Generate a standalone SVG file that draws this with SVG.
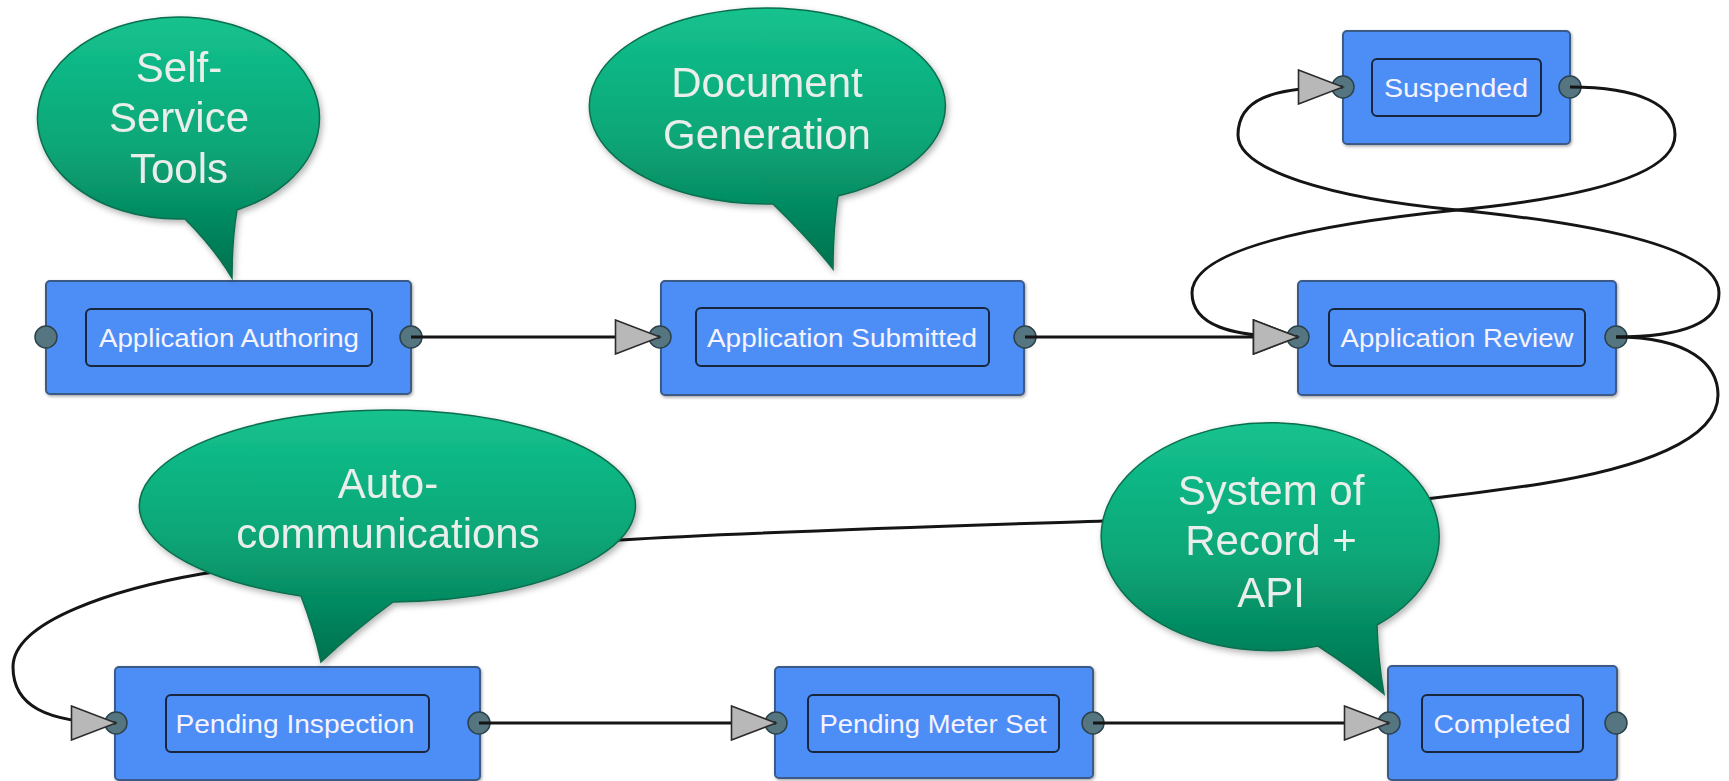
<svg xmlns="http://www.w3.org/2000/svg" width="1729" height="781" viewBox="0 0 1729 781">
  <style>
    .box { fill: #4d8ef6; stroke: #3a5a86; stroke-width: 2; }
    .inner { fill: #4d8ef6; stroke: #18263d; stroke-width: 2; }
    .port { fill: #557680; stroke: #2c424c; stroke-width: 1.5; }
    .label { font-family: "Liberation Sans", Arial, sans-serif; font-size: 26px; fill: #f6f3ff; text-anchor: middle; }
    .wire { fill: none; stroke: #151515; stroke-width: 3; }
    .bubble { fill: url(#bubbleFill); stroke: #0a6e4d; stroke-width: 1.5; }
    .bubbleText { font-family: "Liberation Sans", Arial, sans-serif; font-size: 42px; fill: #e9eeea; text-anchor: middle; }
  </style>
  <defs>
    <linearGradient id="bubbleFill" x1="0" y1="0" x2="0" y2="1">
      <stop offset="0" stop-color="#15c28e"/>
      <stop offset="0.5" stop-color="#08a677"/>
      <stop offset="1" stop-color="#04714e"/>
    </linearGradient>
    <filter id="boxShadow" x="-10%" y="-10%" width="120%" height="130%">
      <feDropShadow dx="1" dy="1.5" stdDeviation="1.5" flood-color="#000" flood-opacity="0.35"/>
    </filter>
    <filter id="bubbleShadow" x="-10%" y="-10%" width="120%" height="130%">
      <feDropShadow dx="2" dy="3" stdDeviation="3" flood-color="#000" flood-opacity="0.3"/>
    </filter>
    <marker id="arrow" viewBox="0 0 48 36" refX="46" refY="18" markerWidth="48" markerHeight="36" markerUnits="userSpaceOnUse" orient="auto">
      <path d="M1.5,1 L46,18 L1.5,35 Z" fill="#b8b8b8" stroke="#2b2b2b" stroke-width="1.6"/>
    </marker>
  </defs>

  <rect width="1729" height="781" fill="#ffffff"/>

  <!-- state nodes -->
  <g id="nodes">
    <g id="application-authoring">
      <rect class="box" x="46" y="281" width="365" height="113" rx="4" filter="url(#boxShadow)"/>
      <rect class="inner" x="86" y="309" width="286" height="57" rx="5"/>
      <text class="label" x="229" y="347" textLength="260" lengthAdjust="spacingAndGlyphs">Application Authoring</text>
      <circle class="port" cx="46" cy="337" r="11"/>
      <circle class="port" cx="411" cy="337" r="11"/>
    </g>
    <g id="application-submitted">
      <rect class="box" x="661" y="281" width="363" height="114" rx="4" filter="url(#boxShadow)"/>
      <rect class="inner" x="696" y="308" width="293" height="58" rx="5"/>
      <text class="label" x="842" y="347" textLength="270" lengthAdjust="spacingAndGlyphs">Application Submitted</text>
      <circle class="port" cx="660" cy="337" r="11"/>
      <circle class="port" cx="1025" cy="337" r="11"/>
    </g>
    <g id="application-review">
      <rect class="box" x="1298" y="281" width="318" height="114" rx="4" filter="url(#boxShadow)"/>
      <rect class="inner" x="1329" y="309" width="256" height="57" rx="5"/>
      <text class="label" x="1457" y="347" textLength="233" lengthAdjust="spacingAndGlyphs">Application Review</text>
      <circle class="port" cx="1298" cy="337" r="11"/>
      <circle class="port" cx="1616" cy="337" r="11"/>
    </g>
    <g id="suspended">
      <rect class="box" x="1343" y="31" width="227" height="113" rx="4" filter="url(#boxShadow)"/>
      <rect class="inner" x="1372" y="59" width="169" height="57" rx="5"/>
      <text class="label" x="1456" y="97" textLength="144" lengthAdjust="spacingAndGlyphs">Suspended</text>
      <circle class="port" cx="1343" cy="87" r="11"/>
      <circle class="port" cx="1570" cy="87" r="11"/>
    </g>
    <g id="pending-inspection">
      <rect class="box" x="115" y="667" width="365" height="113" rx="4" filter="url(#boxShadow)"/>
      <rect class="inner" x="166" y="695" width="263" height="57" rx="5"/>
      <text class="label" x="295" y="733" textLength="239" lengthAdjust="spacingAndGlyphs">Pending Inspection</text>
      <circle class="port" cx="116" cy="723" r="11"/>
      <circle class="port" cx="479" cy="723" r="11"/>
    </g>
    <g id="pending-meter-set">
      <rect class="box" x="775" y="667" width="318" height="111" rx="4" filter="url(#boxShadow)"/>
      <rect class="inner" x="808" y="695" width="251" height="57" rx="5"/>
      <text class="label" x="933" y="733" textLength="227" lengthAdjust="spacingAndGlyphs">Pending Meter Set</text>
      <circle class="port" cx="776" cy="723" r="11"/>
      <circle class="port" cx="1093" cy="723" r="11"/>
    </g>
    <g id="completed">
      <rect class="box" x="1388" y="666" width="229" height="114" rx="4" filter="url(#boxShadow)"/>
      <rect class="inner" x="1422" y="695" width="161" height="57" rx="5"/>
      <text class="label" x="1502" y="733" textLength="137" lengthAdjust="spacingAndGlyphs">Completed</text>
      <circle class="port" cx="1389" cy="723" r="11"/>
      <circle class="port" cx="1616" cy="723" r="11"/>
    </g>
  </g>

  <!-- transitions -->
  <g id="connectors">
    <path class="wire" marker-end="url(#arrow)" d="M411,337 L660,337"/>
    <path class="wire" marker-end="url(#arrow)" d="M1025,337 L1298,337"/>
    <path class="wire" marker-end="url(#arrow)" d="M479,723 L776,723"/>
    <path class="wire" marker-end="url(#arrow)" d="M1093,723 L1389,723"/>
    <!-- Suspended -> Application Review -->
    <path class="wire" marker-end="url(#arrow)" d="M1570,87 C1640,87 1675,105 1675,135 C1675,180 1560,200 1457,210 C1340,222 1192,245 1192,293 C1192,325 1230,337 1298,337"/>
    <!-- Application Review -> Suspended -->
    <path class="wire" marker-end="url(#arrow)" d="M1616,337 C1690,337 1719,320 1719,293 C1719,245 1580,222 1457,210 C1330,198 1238,170 1238,135 C1238,100 1270,87 1343,87"/>
    <!-- Application Review -> Pending Inspection -->
    <path class="wire" marker-end="url(#arrow)" d="M1616,337 C1690,337 1718,365 1718,395 C1718,440 1640,468 1540,484 C1380,508 1250,516 1103,521 C950,526 750,532 620,540 C450,550 280,560 201,574 C120,588 13,620 13,667 C13,705 45,723 116,723"/>
  </g>

  <!-- callout bubbles -->
  <g id="callout-self-service" filter="url(#bubbleShadow)">
    <path class="bubble" d="M185,219 Q214,248 232,278 Q232,240 237,210 A141,101 0 1 0 185,219 Z"/>
    <text class="bubbleText" x="179" y="82">Self-</text>
    <text class="bubbleText" x="179" y="132">Service</text>
    <text class="bubbleText" x="179" y="183">Tools</text>
  </g>
  <g id="callout-document-generation" filter="url(#bubbleShadow)">
    <path class="bubble" d="M773,204 Q810,240 833,269 Q833,230 838,196 A178,98 0 1 0 773,204 Z"/>
    <text class="bubbleText" x="767" y="97">Document</text>
    <text class="bubbleText" x="767" y="149">Generation</text>
  </g>
  <g id="callout-auto-communications" filter="url(#bubbleShadow)">
    <path class="bubble" d="M301,596 Q314,630 321,662 Q355,630 393,602 A248,96 0 1 0 301,596 Z"/>
    <text class="bubbleText" x="388" y="498">Auto-</text>
    <text class="bubbleText" x="388" y="548">communications</text>
  </g>
  <g id="callout-system-of-record" filter="url(#bubbleShadow)">
    <path class="bubble" d="M1318,646 Q1355,670 1384,694 Q1378,660 1377,625 A169,114 0 1 0 1318,646 Z"/>
    <text class="bubbleText" x="1271" y="505">System of</text>
    <text class="bubbleText" x="1271" y="555">Record +</text>
    <text class="bubbleText" x="1271" y="607">API</text>
  </g>
</svg>
